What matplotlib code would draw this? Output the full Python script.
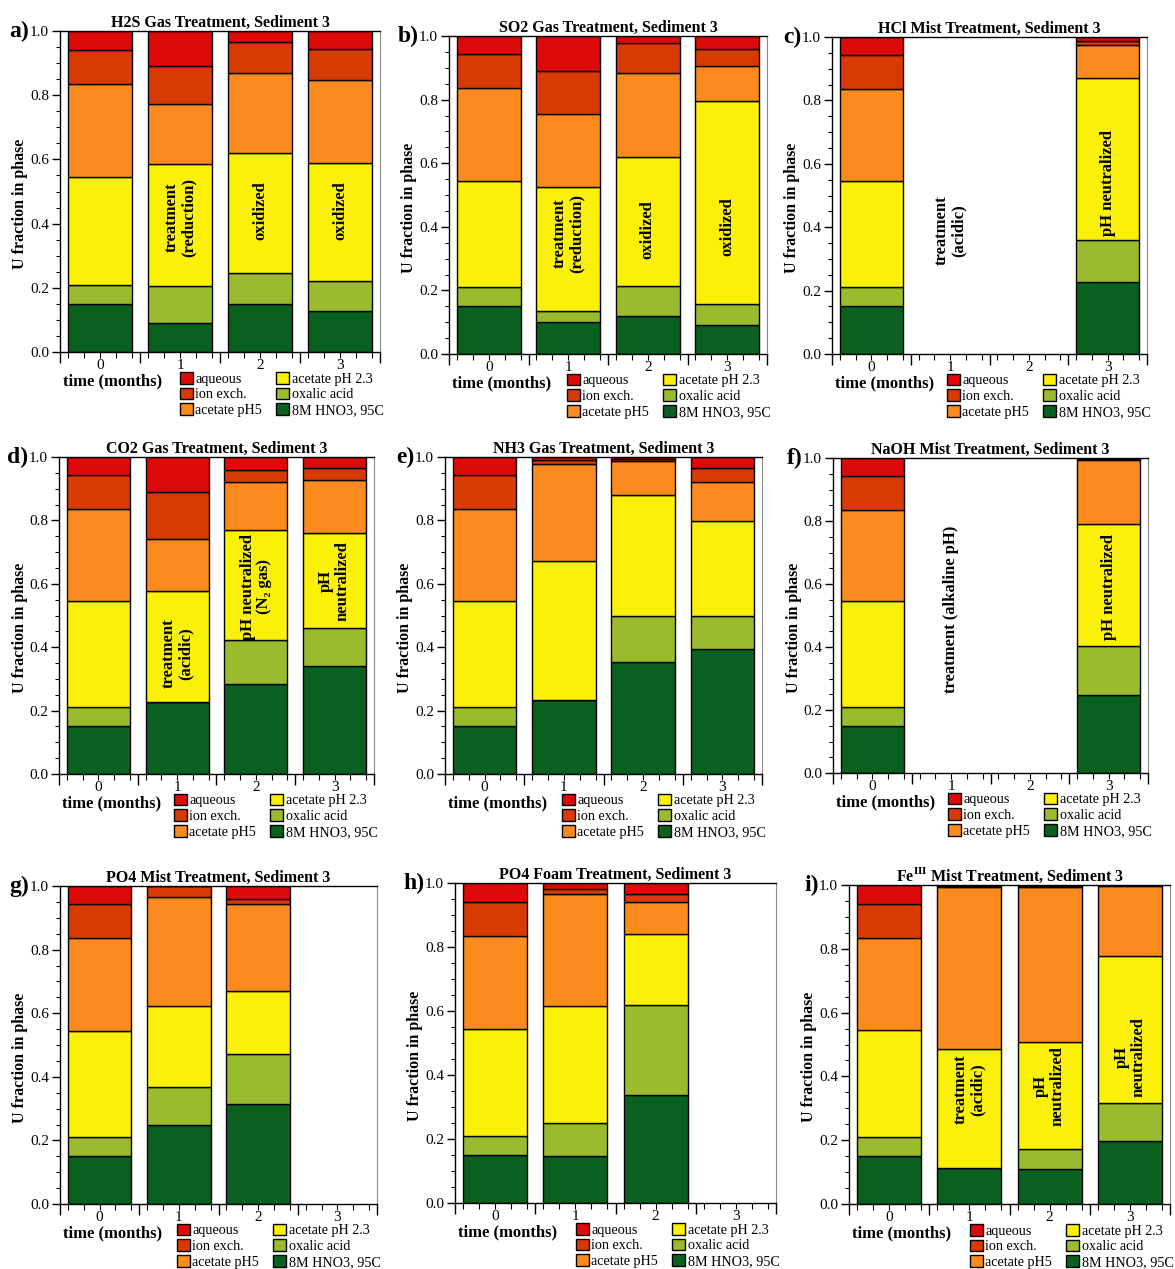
import numpy as np
import matplotlib
matplotlib.use('Agg')
import matplotlib.pyplot as plt
from matplotlib.patches import Patch
from matplotlib.ticker import MultipleLocator, FixedLocator, NullFormatter

plt.rcParams['font.family'] = ['Liberation Serif', 'DejaVu Serif']
plt.rcParams['mathtext.fontset'] = 'custom'
plt.rcParams['mathtext.rm'] = 'Liberation Serif'
plt.rcParams['mathtext.bf'] = 'Liberation Serif:bold'

nan = np.nan
months = [0, 1, 2, 3]
phases = ['8M HNO3, 95C', 'oxalic acid', 'acetate pH 2.3',
          'acetate pH5', 'ion exch.', 'aqueous']
colors = ['#0a601f', '#9bbb2e', '#fbf007', '#fc8b1f', '#d83a04', '#de0a0a']

# U fraction per phase, rows bottom -> top (same order as phases), cols = months
h2s = [[0.15, 0.091, 0.150, 0.127],
       [0.06, 0.115, 0.095, 0.095],
       [0.335, 0.379, 0.376, 0.368],
       [0.29, 0.188, 0.249, 0.258],
       [0.107, 0.117, 0.095, 0.096],
       [0.058, 0.110, 0.035, 0.056]]
so2 = [[0.15, 0.100, 0.119, 0.090],
       [0.06, 0.034, 0.095, 0.066],
       [0.335, 0.390, 0.404, 0.640],
       [0.29, 0.230, 0.265, 0.110],
       [0.107, 0.136, 0.094, 0.052],
       [0.058, 0.110, 0.023, 0.042]]
hcl = [[0.15, nan, nan, 0.227],
       [0.06, nan, nan, 0.132],
       [0.335, nan, nan, 0.512],
       [0.29, nan, nan, 0.104],
       [0.107, nan, nan, 0.011],
       [0.058, nan, nan, 0.014]]
co2 = [[0.15, 0.227, 0.284, 0.342],
       [0.06, 0.0, 0.140, 0.119],
       [0.335, 0.351, 0.347, 0.299],
       [0.29, 0.163, 0.149, 0.166],
       [0.107, 0.148, 0.039, 0.038],
       [0.058, 0.111, 0.041, 0.036]]
nh3 = [[0.15, 0.233, 0.352, 0.395],
       [0.06, 0.002, 0.148, 0.102],
       [0.335, 0.437, 0.380, 0.301],
       [0.29, 0.307, 0.107, 0.123],
       [0.107, 0.013, 0.007, 0.044],
       [0.058, 0.008, 0.006, 0.035]]
naoh = [[0.15, nan, nan, 0.249],
        [0.06, nan, nan, 0.155],
        [0.335, nan, nan, 0.386],
        [0.29, nan, nan, 0.205],
        [0.107, nan, nan, 0.003],
        [0.058, nan, nan, 0.002]]
po4_mist = [[0.15, 0.248, 0.314, nan],
            [0.06, 0.120, 0.159, nan],
            [0.335, 0.255, 0.196, nan],
            [0.29, 0.342, 0.274, nan],
            [0.107, 0.035, 0.017, nan],
            [0.058, 0.0, 0.040, nan]]
po4_foam = [[0.15, 0.148, 0.339, nan],
            [0.06, 0.102, 0.281, nan],
            [0.335, 0.365, 0.222, nan],
            [0.29, 0.351, 0.099, nan],
            [0.107, 0.016, 0.026, nan],
            [0.058, 0.018, 0.033, nan]]
fe3 = [[0.15, 0.112, 0.109, 0.196],
       [0.06, 0.0, 0.062, 0.120],
       [0.335, 0.373, 0.338, 0.462],
       [0.29, 0.508, 0.484, 0.220],
       [0.107, 0.004, 0.004, 0.001],
       [0.058, 0.003, 0.003, 0.001]]

titles = ['H2S Gas Treatment, Sediment 3', 'SO2 Gas Treatment, Sediment 3',
          'HCl Mist Treatment, Sediment 3', 'CO2 Gas Treatment, Sediment 3',
          'NH3 Gas Treatment, Sediment 3', 'NaOH Mist Treatment, Sediment 3',
          'PO4 Mist Treatment, Sediment 3', 'PO4 Foam Treatment, Sediment 3',
          r'Fe$^{\mathbf{III}}$ Mist Treatment, Sediment 3']
letters = ['a)', 'b)', 'c)', 'd)', 'e)', 'f)', 'g)', 'h)', 'i)']
datasets = [h2s, so2, hcl, co2, nh3, naoh, po4_mist, po4_foam, fe3]

# in-bar notes: (month, y, text)
notes = [
    [(1, 0.42, 'treatment\n(reduction)'), (2, 0.44, 'oxidized'), (3, 0.44, 'oxidized')],
    [(1, 0.38, 'treatment\n(reduction)'), (2, 0.39, 'oxidized'), (3, 0.40, 'oxidized')],
    [(1, 0.39, 'treatment\n(acidic)'), (3, 0.54, 'pH neutralized')],
    [(1, 0.38, 'treatment\n(acidic)'), (2, 0.59, 'pH neutralized\n(N\u2082 gas)'),
     (3, 0.61, 'pH\nneutralized')],
    [],
    [(1, 0.52, 'treatment (alkaline pH)'), (3, 0.59, 'pH neutralized')],
    [],
    [],
    [(1, 0.36, 'treatment\n(acidic)'), (2, 0.37, 'pH\nneutralized'),
     (3, 0.46, 'pH\nneutralized')],
]

W, H = 1175, 1269
# axes boxes in pixels: left, top, right, bottom
boxes = [(60, 31, 380, 352), (449, 36, 767, 354), (832, 37, 1147, 354),
         (59, 457, 374, 774), (445, 457, 762, 774), (833, 458, 1148, 773),
         (60, 886, 377, 1204), (455, 883, 776, 1203), (849, 885, 1170, 1204)]

fig = plt.figure(figsize=(W / 100, H / 100), dpi=100)

for k, data in enumerate(datasets):
    l, t, r, b = boxes[k]
    ax = fig.add_axes([l / W, 1 - b / H, (r - l) / W, (b - t) / H])
    vals = np.array(data, dtype=float)
    bottom = np.zeros(len(months))
    for j in range(len(phases)):
        ax.bar(months, vals[j], 0.8, bottom=bottom, color=colors[j],
               edgecolor='black', linewidth=1.0)
        bottom = bottom + vals[j]

    ax.set_xlim(-0.5, 3.5)
    ax.set_ylim(0, 1)
    ax.xaxis.set_major_locator(FixedLocator([-0.5, 0.5, 1.5, 2.5, 3.5]))
    ax.xaxis.set_major_formatter(NullFormatter())
    ax.xaxis.set_minor_locator(MultipleLocator(0.2))
    ax.tick_params(axis='x', which='major', length=8, width=1, direction='out')
    ax.tick_params(axis='x', which='minor', length=4, width=0.8, direction='out')
    for m in months:
        ax.text(m, -0.022, str(m), transform=ax.get_xaxis_transform(),
                ha='center', va='top', fontsize=11)
    ax.yaxis.set_major_locator(MultipleLocator(0.2))
    ax.yaxis.set_minor_locator(MultipleLocator(0.05))
    ax.yaxis.set_major_formatter(plt.FuncFormatter(lambda v, p: '%.1f' % v))
    ax.tick_params(axis='y', which='major', length=6, width=1, labelsize=11, pad=2)
    ax.tick_params(axis='y', which='minor', length=3, width=0.8)
    ax.spines['right'].set_color('#888888')
    for s in ['left', 'bottom', 'top']:
        ax.spines[s].set_linewidth(1.0)

    ax.set_ylabel('U fraction in phase', fontsize=11.5, fontweight='bold')
    ax.yaxis.set_label_coords(-0.1, 0.46)
    ax.set_title(titles[k], fontsize=11.5, fontweight='bold', pad=3)
    ax.annotate(letters[k], xy=(0, 1), xycoords='axes fraction',
                xytext=(-22, 0), textcoords='offset points',
                ha='right', va='center', fontsize=17, fontweight='bold')
    ax.annotate('time (months)', xy=(0, 0), xycoords='axes fraction',
                xytext=(2, -21), textcoords='offset points',
                ha='left', va='center', fontsize=12, fontweight='bold')

    for x, y, txt in notes[k]:
        ax.text(x, y, txt, rotation=90, ha='center', va='center',
                fontsize=12, fontweight='bold', linespacing=1.05)

    handles = [Patch(facecolor=colors[j], edgecolor='black', label=phases[j])
               for j in range(len(phases) - 1, -1, -1)]
    ax.legend(handles=handles, loc='upper right', bbox_to_anchor=(1.012, -0.062),
              ncol=2, frameon=False, fontsize=10.2, handlelength=0.9,
              handleheight=0.9, labelspacing=0.14, columnspacing=1.0,
              handletextpad=0.2, borderpad=0, borderaxespad=0)

fig.savefig('out.png', dpi=100)
